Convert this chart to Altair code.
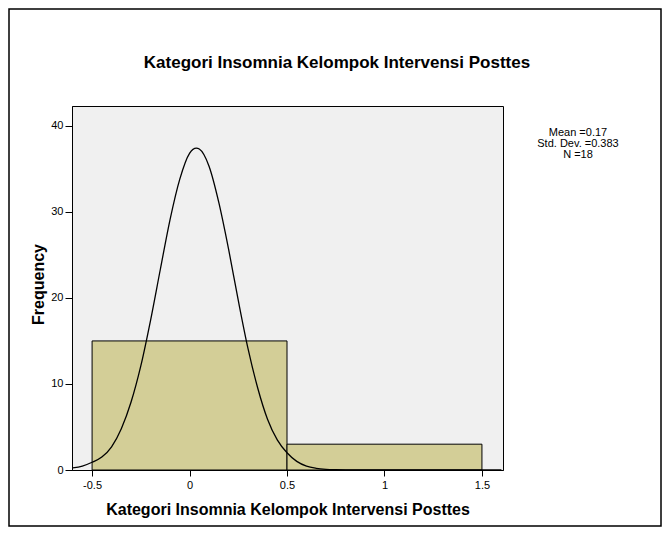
import altair as alt
import pandas as pd

# Histogram bins (SPSS output)
bin_start = [-0.5, 0.5]
bin_end = [0.5, 1.5]
bin_count = [15, 3]

# Normal curve, values
curve_x = [-0.60, -0.55, -0.50, -0.45, -0.40, -0.35, -0.30, -0.25, -0.20, -0.15,
           -0.10, -0.05, 0.00, 0.035, 0.05, 0.10, 0.15, 0.20, 0.25, 0.30, 0.35,
           0.40, 0.45, 0.50, 0.55, 0.60, 0.65, 0.70, 0.75, 0.80, 0.90, 1.00,
           1.20, 1.40, 1.60]
curve_y = [0.25, 0.45, 0.9, 1.5, 2.7, 4.8, 7.9, 12.1, 17.4, 23.3,
           29.1, 33.8, 36.8, 37.4, 37.3, 35.3, 31.1, 25.7, 19.7, 14.1, 9.5,
           5.9, 3.5, 2.0, 1.0, 0.45, 0.2, 0.08, 0.03, 0.01, 0.0, 0.0,
           0.0, 0.0, 0.0]

stat_lines = ["Mean =0.17", "Std. Dev. =0.383", "N =18"]

title_text = ["Kategori Insomnia Kelompok Intervensi Posttes"]
x_title = "Kategori Insomnia Kelompok Intervensi Posttes"
y_title = "Frequency"

x_ticks = [-0.5, 0, 0.5, 1, 1.5]
y_ticks = [0, 10, 20, 30, 40]

FONT = "Liberation Sans"
W, H = 431, 364

bars_df = pd.DataFrame({"start": bin_start, "end": bin_end, "count": bin_count})
curve_df = pd.DataFrame({"x": curve_x, "y": curve_y})
stats_df = pd.DataFrame({"line": stat_lines, "i": list(range(len(stat_lines)))})
title_df = pd.DataFrame({"t": title_text})

xscale = alt.Scale(domain=[-0.603, 1.608], nice=False, zero=False)
yscale = alt.Scale(domain=[0, 42.3], nice=False)

xaxis = alt.Axis(values=x_ticks, labelExpr="datum.value + ''", grid=False,
                 tickSize=6, labelPadding=3, labelFontSize=11, labelFont=FONT,
                 labelColor="#000", tickColor="#000", domainColor="#000",
                 title=x_title, titleFont=FONT, titleFontSize=16, titleFontWeight="bold",
                 titleColor="#000", titleX=W / 2, titleY=39, titleBaseline="middle",
                 titleAlign="center", labelFlush=False)
yaxis = alt.Axis(values=y_ticks, grid=False, tickSize=7, labelPadding=2,
                 labelFontSize=11, labelFont=FONT, labelColor="#000",
                 tickColor="#000", domainColor="#000",
                 title=y_title, titleFont=FONT, titleFontSize=16, titleFontWeight="bold",
                 titleColor="#000", titleX=-34, titleY=H / 2 - 4, titleAngle=-90,
                 titleBaseline="middle", titleAlign="center", labelFlush=False)

bars = alt.Chart(bars_df).mark_rect(fill="#D3CE97", stroke="#000", strokeWidth=1).encode(
    x=alt.X("start:Q", scale=xscale, axis=xaxis),
    x2="end:Q",
    y=alt.Y("count:Q", scale=yscale, axis=yaxis),
    y2=alt.datum(0),
)

curve = alt.Chart(curve_df).mark_line(color="#000", strokeWidth=1.3, interpolate="monotone").encode(
    x=alt.X("x:Q", scale=xscale),
    y=alt.Y("y:Q", scale=yscale),
)

main = alt.layer(bars, curve)

stats = alt.Chart(stats_df).mark_text(font=FONT, fontSize=11, color="#000",
                                      align="center", baseline="middle", clip=False).encode(
    x=alt.value(506),
    y=alt.Y("i:Q", scale=alt.Scale(domain=[0, 2], range=[27, 49]), axis=None),
    text="line:N",
)

title = alt.Chart(title_df).mark_text(font=FONT, fontSize=17, fontWeight="bold", color="#000",
                                      align="center", baseline="middle", clip=False).encode(
    x=alt.value(265), y=alt.value(-43), text="t:N",
)

frame = alt.Chart(title_df).mark_rect(fill=None, stroke="#000", strokeWidth=1.5, clip=False).encode(
    x=alt.value(-63), x2=alt.value(W + 158),
    y=alt.value(-97), y2=alt.value(H + 56),
)

chart = alt.layer(frame, main, stats, title).resolve_scale(y="independent").properties(
    width=W, height=H,
    autosize=alt.AutoSizeParams(type="none"),
    padding={"left": 64, "top": 98, "right": 159, "bottom": 59},
    background="white",
).configure_view(fill="#F0F0F0", stroke="#000", strokeWidth=1)

chart.save("out.html", embed_options={"renderer": "svg", "actions": False})
